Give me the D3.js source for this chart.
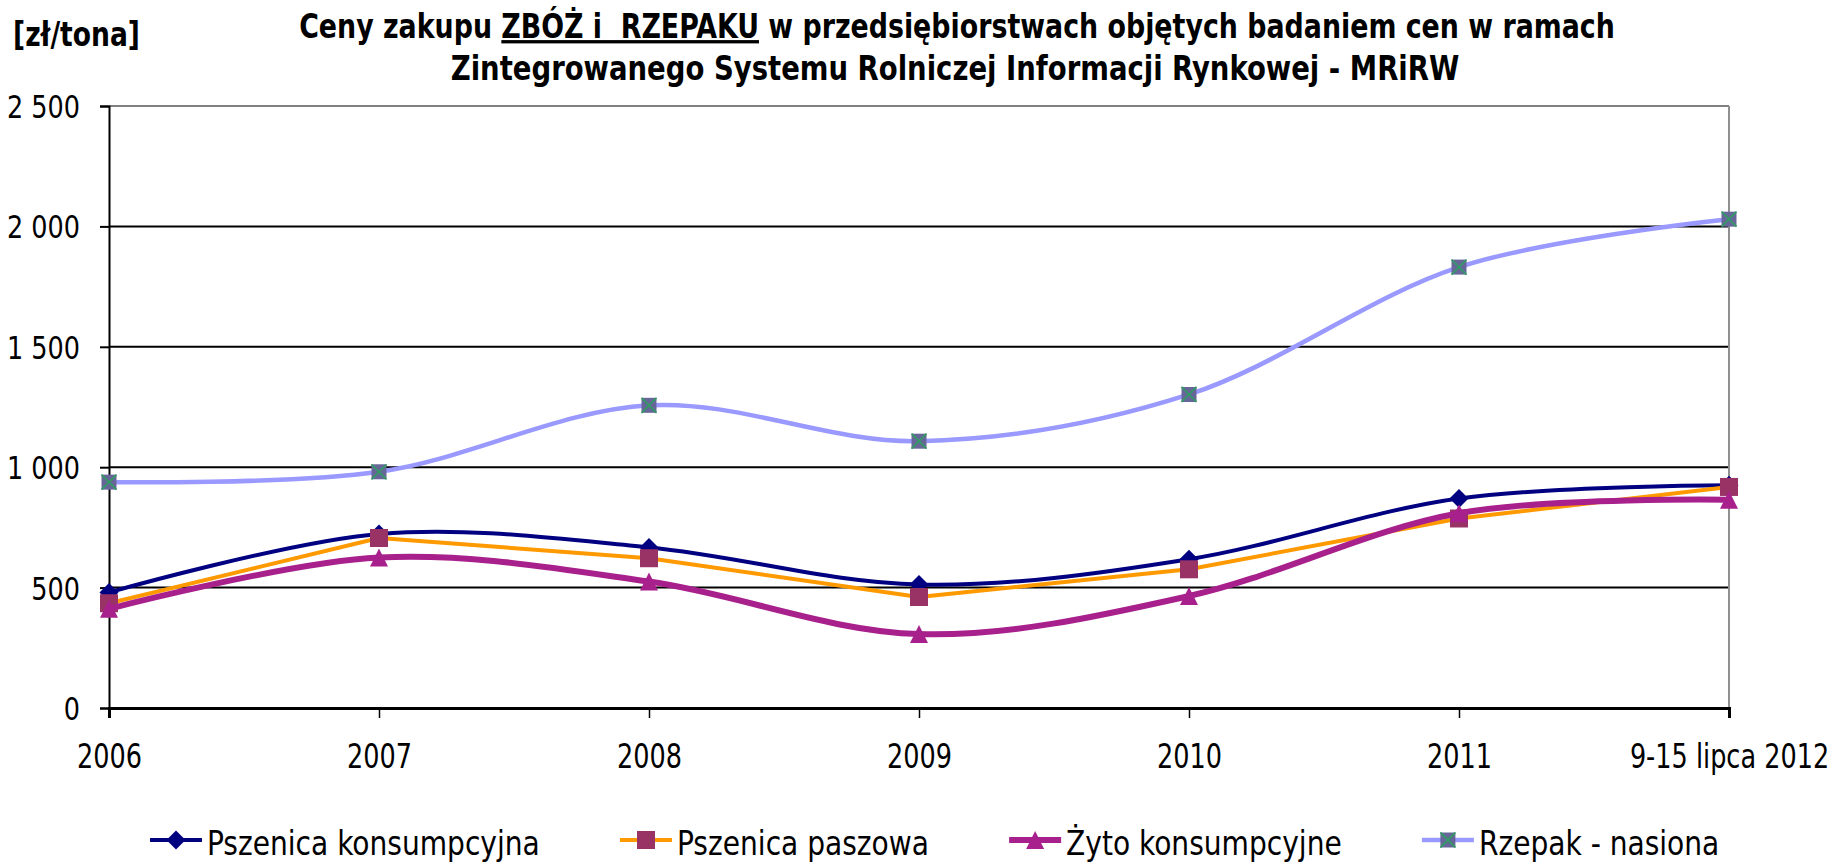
<!DOCTYPE html>
<html><head><meta charset="utf-8">
<script src="https://cdn.jsdelivr.net/npm/d3@7"></script>
<style>body{margin:0;background:#fff} svg{display:block}</style>
</head><body>
<svg id="c" width="1841" height="862"></svg>
<script>
// ---------------- data ----------------
const categories = ["2006","2007","2008","2009","2010","2011","9-15 lipca 2012"];
const pszenicaKonsumpcyjna = [480,723,667,513,618,870,925];
const pszenicaPaszowa      = [435,706,622,461,576,787,918];
const zytoKonsumpcyjne     = [412,625,525,307,465,809,865];
const rzepakNasiona        = [938,981,1257,1108,1302,1831,2030];
const yTickValues = [0,500,1000,1500,2000,2500];
const seriesNames = ["Pszenica konsumpcyjna","Pszenica paszowa","Żyto konsumpcyjne","Rzepak - nasiona"];
const unitLabel = "[zł/tona]";
const titleLine1 = ["Ceny zakupu ", "ZBÓŻ i  RZEPAKU", " w przedsiębiorstwach objętych badaniem cen w ramach"];
const titleLine2 = "Zintegrowanego Systemu Rolniczej Informacji Rynkowej - MRiRW";

// ---------------- styles / layout ----------------
const FONT = "'DejaVu Sans Condensed','DejaVu Sans',sans-serif";
const styles = [
  {line:"#000080", width:4,   marker:"diamond", mfill:"#000080", msize:19, smooth:true},
  {line:"#FF9900", width:4,   marker:"square",  mfill:"#993366", msize:18, smooth:false},
  {line:"#A8208C", width:6,   marker:"triangle",mfill:"#A8208C", msize:18, smooth:true},
  {line:"#9999FF", width:4.5, marker:"xsquare", mfill:"#666699", msize:15, smooth:true}
];
const L = {left:109, right:1729, top:106, bottom:708};

const svg = d3.select("#c");
const x = d3.scalePoint().domain(categories).range([L.left, L.right]).padding(0);
const y = d3.scaleLinear().domain([0,2500]).range([L.bottom, L.top]);
const fmt = d3.formatLocale({decimal:",", thousands:" ", grouping:[3], currency:["",""]}).format(",");

// horizontally scale a text about its anchor x so that it gets the given width
function squeeze(node, k){
  const ax = +(node.getAttribute("x") || 0);
  node.setAttribute("transform", `translate(${ax},0) scale(${k},1) translate(${-ax},0)`);
}
function fitGroup(sel, refIndex, refWidth){
  const nodes = sel.nodes();
  const k = refWidth / nodes[refIndex].getComputedTextLength();
  nodes.forEach(n => squeeze(n, k));
  return k;
}

// gridlines
svg.append("g").selectAll("line").data(yTickValues.filter(v=>v>0 && v<2500)).join("line")
  .attr("x1", L.left).attr("x2", L.right).attr("y1", d=>y(d)).attr("y2", d=>y(d))
  .attr("stroke","#000").attr("stroke-width",2);
// plot border top/right
svg.append("line").attr("x1",L.left).attr("x2",L.right).attr("y1",y(2500)).attr("y2",y(2500))
  .attr("stroke","#808080").attr("stroke-width",2);
svg.append("line").attr("x1",L.right).attr("x2",L.right).attr("y1",L.top).attr("y2",L.bottom)
  .attr("stroke","#909090").attr("stroke-width",2);

// y axis
const yAxis = svg.append("g").attr("transform",`translate(${L.left},0)`)
  .call(d3.axisLeft(y).tickValues(yTickValues).tickFormat(fmt).tickSizeOuter(0).tickSize(9).tickPadding(20));
yAxis.select(".domain").attr("stroke","#000").attr("stroke-width",2);
yAxis.selectAll(".tick line").attr("stroke","#000").attr("stroke-width",2);
yAxis.selectAll("text").attr("font-family",FONT).attr("font-size",32).attr("fill","#000")
  .attr("x",-29).attr("dy","0.36em");
fitGroup(yAxis.selectAll("text"), 5, 73);

// x axis
const xAxis = svg.append("g").attr("transform",`translate(0,${L.bottom})`)
  .call(d3.axisBottom(x).tickSizeOuter(0).tickSize(10));
xAxis.select(".domain").attr("stroke","#000").attr("stroke-width",3);
xAxis.selectAll(".tick line").attr("stroke","#000").attr("stroke-width",1.5);
xAxis.selectAll("text").attr("font-family",FONT).attr("font-size",34).attr("fill","#000")
  .attr("y",60).attr("dy",0);
fitGroup(xAxis.selectAll("text"), 0, 65);

// markers
function markerPath(type, s){
  const h = s/2;
  if(type==="diamond") return `M0,${-h}L${h},0L0,${h}L${-h},0Z`;
  if(type==="triangle") return `M0,${-h}L${h},${h}L${-h},${h}Z`;
  return `M${-h},${-h}H${h}V${h}H${-h}Z`;
}
function drawMarker(g, st){
  g.append("path").attr("d", markerPath(st.marker, st.msize)).attr("fill", st.mfill);
  if(st.marker==="xsquare"){
    const h = st.msize/2;
    g.append("path").attr("d",`M${-h},${-h}L${h},${h}M${h},${-h}L${-h},${h}`)
      .attr("stroke","#339966").attr("stroke-width",1.8).attr("fill","none");
  }
}

// series
const seriesData = [pszenicaKonsumpcyjna, pszenicaPaszowa, zytoKonsumpcyjne, rzepakNasiona];
seriesData.forEach((vals, i) => {
  const st = styles[i];
  const line = d3.line().x((d,j)=>x(categories[j])).y(d=>y(d))
    .curve(st.smooth ? d3.curveCatmullRom.alpha(0) : d3.curveLinear);
  const g = svg.append("g");
  g.append("path").attr("d", line(vals)).attr("fill","none")
    .attr("stroke", st.line).attr("stroke-width", st.width).attr("stroke-linejoin","round");
  vals.forEach((v,j) => {
    const m = g.append("g").attr("transform",`translate(${x(categories[j])},${y(v)})`);
    drawMarker(m, st);
  });
});

// title
const t1 = svg.append("text").attr("x",957).attr("y",38).attr("text-anchor","middle")
  .attr("font-family",FONT).attr("font-size",33).attr("font-weight","bold").attr("fill","#000")
  .attr("xml:space","preserve").style("white-space","pre");
titleLine1.forEach((s,i)=>{
  const ts = t1.append("tspan").text(s);
  if(i===1) ts.attr("text-decoration","underline");
});
squeeze(t1.node(), 1316 / t1.node().getComputedTextLength());
const t2 = svg.append("text").attr("x",955).attr("y",80).attr("text-anchor","middle")
  .attr("font-family",FONT).attr("font-size",33).attr("font-weight","bold").attr("fill","#000")
  .text(titleLine2);
squeeze(t2.node(), 1009 / t2.node().getComputedTextLength());
const tu = svg.append("text").attr("x",13).attr("y",46)
  .attr("font-family",FONT).attr("font-size",33).attr("font-weight","bold").attr("fill","#000")
  .text(unitLabel);
squeeze(tu.node(), 127 / tu.node().getComputedTextLength());

// legend
const leg = svg.append("g");
let lx = 150;
const legY = 840, legBase = 855, lineLen = 52, gapText = 5, gapItem = 80;
let kLeg = null;
seriesNames.forEach((name,i)=>{
  const st = styles[i];
  const g = leg.append("g");
  g.append("line").attr("x1",lx).attr("x2",lx+lineLen).attr("y1",legY).attr("y2",legY)
    .attr("stroke",st.line).attr("stroke-width",st.width);
  drawMarker(g.append("g").attr("transform",`translate(${lx+lineLen/2},${legY})`), st);
  const t = g.append("text").attr("x",lx+lineLen+gapText).attr("y",legBase)
    .attr("font-family",FONT).attr("font-size",34).attr("fill","#000").text(name);
  const w0 = t.node().getComputedTextLength();
  if(kLeg===null) kLeg = 333 / w0;
  squeeze(t.node(), kLeg);
  lx += lineLen + gapText + w0*kLeg + gapItem;
});
</script>
</body></html>
